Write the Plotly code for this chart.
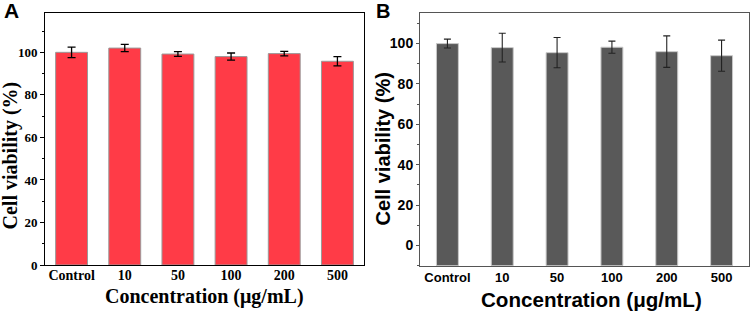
import plotly.graph_objects as go

categories = ["Control", "10", "50", "100", "200", "500"]
viability_a = [100.0, 102.0, 99.2, 98.0, 99.4, 95.8]
error_a = [2.5, 1.7, 1.1, 1.7, 1.1, 2.2]
viability_b = [100.0, 98.0, 95.5, 98.2, 96.0, 94.0]
error_b = [2.2, 7.1, 7.5, 3.0, 7.8, 7.7]
y_ticks = [0, 20, 40, 60, 80, 100]
base_b = -10

W, H = 754, 311
def px(x):
    return x / W
def py(y):
    return 1 - y / H

fig = go.Figure()
fig.add_trace(go.Bar(
    x=categories, y=viability_a, width=0.6,
    marker=dict(color="#FF3B47", line=dict(color="#9a9a9a", width=1)),
    error_y=dict(type="data", array=error_a, color="#000000", thickness=1.3, width=4),
    xaxis="x", yaxis="y", showlegend=False))
fig.add_trace(go.Bar(
    x=categories, y=[v - base_b for v in viability_b], base=base_b, width=0.4,
    marker=dict(color="#595959", line=dict(color="#c8c8c8", width=1)),
    error_y=dict(type="data", array=error_b, color="#222222", thickness=1.1, width=3.5),
    xaxis="x2", yaxis="y2", showlegend=False))

serif = "Liberation Serif, Times New Roman, serif"
sans = "Liberation Sans, Arial, sans-serif"

fig.update_layout(
    template="none",
    width=W, height=H, autosize=False,
    margin=dict(l=0, r=0, t=0, b=0, pad=0, autoexpand=False),
    paper_bgcolor="white", plot_bgcolor="white",
    xaxis=dict(domain=[px(45), px(364)], anchor="y", type="category", automargin=False,
               range=[-0.5, 5.5], showline=True, mirror=True, linecolor="black",
               linewidth=1, ticks="", showgrid=False, zeroline=False, ticklabelstandoff=-3,
               tickfont=dict(family=serif, size=14, color="black", weight="bold")),
    yaxis=dict(domain=[py(265), py(13)], anchor="x", range=[0, 118.5], automargin=False,
               tickvals=y_ticks, ticks="outside", ticklen=4, tickcolor="black",
               showline=True, mirror=True, linecolor="black", linewidth=1,
               showgrid=False, zeroline=False,
               minor=dict(dtick=10, tick0=0, ticks="outside", ticklen=2, tickcolor="black", showgrid=False),
               tickfont=dict(family=serif, size=13, color="black", weight="bold")),
    xaxis2=dict(domain=[px(420), px(749)], anchor="y2", type="category", automargin=False,
                range=[-0.5, 5.5], showline=True, mirror=True, linecolor="#555555",
                linewidth=1, ticks="", showgrid=False, zeroline=False,
                tickfont=dict(family=sans, size=13, color="black", weight="bold")),
    yaxis2=dict(domain=[py(265.7), py(13.3)], anchor="x2", range=[-10, 115], automargin=False,
                tickvals=y_ticks, ticks="outside", ticklen=3, tickcolor="#555555",
                showline=True, mirror=True, linecolor="#555555", linewidth=1,
                showgrid=False, zeroline=False,
                minor=dict(dtick=10, tick0=0, ticks="outside", ticklen=2, tickcolor="#555555", showgrid=False),
                tickfont=dict(family=sans, size=14, color="black", weight="bold")),
)

def ann(text, x, y, font, angle=0):
    fig.add_annotation(text=text, x=px(x), y=py(y), xref="paper", yref="paper",
                       showarrow=False, textangle=angle, font=font,
                       xanchor="center", yanchor="middle")

ann("Cell viability (%)", 10, 155.5, dict(family=serif, size=20, color="black", weight="bold"), -90)
ann("Concentration (μg/mL)", 204.5, 296, dict(family=serif, size=20, color="black", weight="bold"))
ann("Cell viability (%)", 382.5, 149, dict(family=sans, size=20, color="black", weight="bold"), -90)
ann("Concentration (μg/mL)", 591, 299, dict(family=sans, size=20.6, color="black", weight="bold"))
ann("A", 11.5, 10, dict(family=sans, size=21, color="black", weight="bold"))
ann("B", 383, 11, dict(family=sans, size=20, color="black", weight="bold"))

fig.write_html("out.html", config={"displayModeBar": False},
               post_script="document.body.style.margin='0px';document.body.style.overflow='hidden';")
